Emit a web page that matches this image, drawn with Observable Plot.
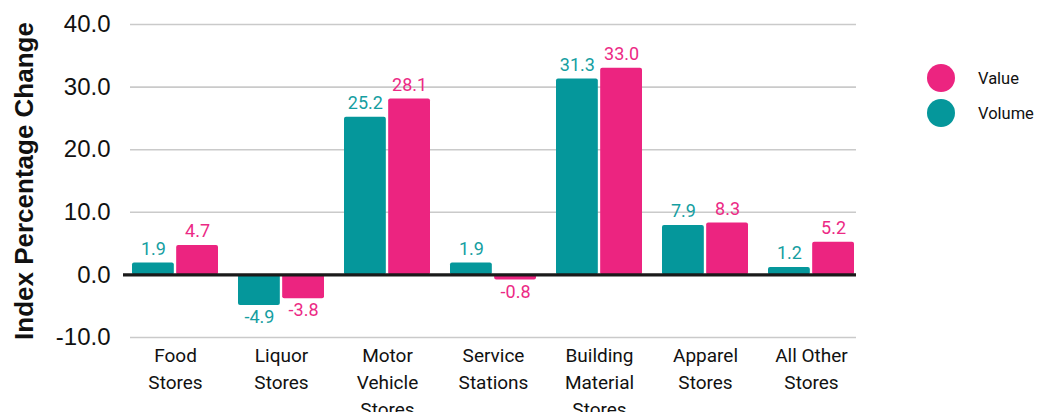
<!DOCTYPE html>
<html>
<head>
<meta charset="utf-8">
<script src="https://cdn.jsdelivr.net/npm/d3@7"></script>
<script src="https://cdn.jsdelivr.net/npm/@observablehq/plot@0.6"></script>
<style>
  html, body { margin: 0; padding: 0; background: #fff; }
  #wrap { position: relative; width: 1043px; height: 412px; overflow: hidden; }
  .legend { position: absolute; left: 927px; top: 0; font-family: Roboto, "Liberation Sans", sans-serif; font-size: 16.5px; color: #111; }
  .legend .item { position: absolute; left: 0; display: flex; align-items: center; height: 28px; white-space: nowrap; }
  .legend .sw { display: inline-block; width: 28px; height: 28px; border-radius: 50%; margin-right: 23px; }
</style>
</head>
<body>
<div id="wrap"></div>
<script>
const categories = ["Food Stores", "Liquor Stores", "Motor Vehicle Stores", "Service Stations", "Building Material Stores", "Apparel Stores", "All Other Stores"];
const categoryLabels = ["Food\nStores", "Liquor\nStores", "Motor\nVehicle\nStores", "Service\nStations", "Building\nMaterial\nStores", "Apparel\nStores", "All Other\nStores"];
const volume = [1.9, -4.9, 25.2, 1.9, 31.3, 7.9, 1.2];
const value = [4.7, -3.8, 28.1, -0.8, 33.0, 8.3, 5.2];
const seriesNames = ["Value", "Volume"];
const yTicks = [-10, 0, 10, 20, 30, 40];

const colors = {Volume: "#05979b", Value: "#ec2480"};
const labelColors = {Volume: "#159ea1", Value: "#ec2a85"};

const rows = [];
categories.forEach((c, i) => {
  rows.push({category: c, series: "Volume", v: volume[i]});
  rows.push({category: c, series: "Value", v: value[i]});
});
const volRows = rows.filter(d => d.series === "Volume");
const valRows = rows.filter(d => d.series === "Value");
const catRows = categories.map((c, i) => ({category: c, label: categoryLabels[i]}));

const W = 1043, H = 412, mL = 130, mR = 187, mT = 24, mB = 75;
const padIn = 0.19;
const step = (W - mL - mR) / (categories.length - padIn);
const bw = step * (1 - padIn);
const half = bw / 2 + 1;
const off = bw / 4 + 0.5;

const labelFont = "Roboto, 'Liberation Sans', sans-serif";

const chart = Plot.plot({
  width: W, height: H,
  marginLeft: mL, marginRight: mR, marginTop: mT, marginBottom: mB,
  style: {fontFamily: "'Liberation Sans', Arial, sans-serif", fontSize: "24px", color: "#111", background: "#fff"},
  x: {domain: categories, paddingInner: padIn, paddingOuter: 0, axis: null},
  y: {domain: [-10, 40], ticks: yTicks, tickFormat: d => d.toFixed(1), tickSize: 0, tickPadding: 20, label: null, nice: false},
  marks: [
    Plot.ruleY(yTicks.filter(t => t !== 0), {stroke: "#cacaca", strokeWidth: 1.6}),
    Plot.barY(volRows, {x: "category", y: "v", fill: colors.Volume, insetRight: half, rx: 2}),
    Plot.barY(valRows, {x: "category", y: "v", fill: colors.Value, insetLeft: half, rx: 2}),
    Plot.ruleY([0], {stroke: "#1a1a1a", strokeWidth: 3.4, insetLeft: -7}),
    Plot.text(volRows.filter(d => d.v >= 0), {x: "category", y: "v", text: d => d.v.toFixed(1), dx: -off, dy: -8, lineAnchor: "bottom", fill: labelColors.Volume, fontFamily: labelFont, fontSize: 18}),
    Plot.text(volRows.filter(d => d.v < 0), {x: "category", y: "v", text: d => d.v.toFixed(1), dx: -off, dy: 5, lineAnchor: "top", fill: labelColors.Volume, fontFamily: labelFont, fontSize: 18}),
    Plot.text(valRows.filter(d => d.v >= 0), {x: "category", y: "v", text: d => d.v.toFixed(1), dx: off, dy: -8, lineAnchor: "bottom", fill: labelColors.Value, fontFamily: labelFont, fontSize: 18}),
    Plot.text(valRows.filter(d => d.v < 0), {x: "category", y: "v", text: d => d.v.toFixed(1), dx: off, dy: 5, lineAnchor: "top", fill: labelColors.Value, fontFamily: labelFont, fontSize: 18}),
    Plot.text(catRows, {x: "category", text: "label", frameAnchor: "bottom", lineAnchor: "top", dy: 6, lineHeight: 1.4, fill: "#111", fontFamily: labelFont, fontSize: 19}),
    Plot.text(["Index Percentage Change"], {frameAnchor: "left", textAnchor: "middle", rotate: -90, dx: -106, fontWeight: "bold", fontSize: 26, fill: "#111", fontFamily: "'Liberation Sans', Arial, sans-serif"})
  ]
});

const wrap = document.getElementById("wrap");
wrap.appendChild(chart);

const legend = document.createElement("div");
legend.className = "legend";
seriesNames.forEach((s, i) => {
  const item = document.createElement("div");
  item.className = "item";
  item.style.top = (64 + i * 35) + "px";
  const sw = document.createElement("span");
  sw.className = "sw";
  sw.style.background = colors[s];
  const t = document.createElement("span");
  t.textContent = s;
  item.appendChild(sw);
  item.appendChild(t);
  legend.appendChild(item);
});
wrap.appendChild(legend);
</script>
</body>
</html>
